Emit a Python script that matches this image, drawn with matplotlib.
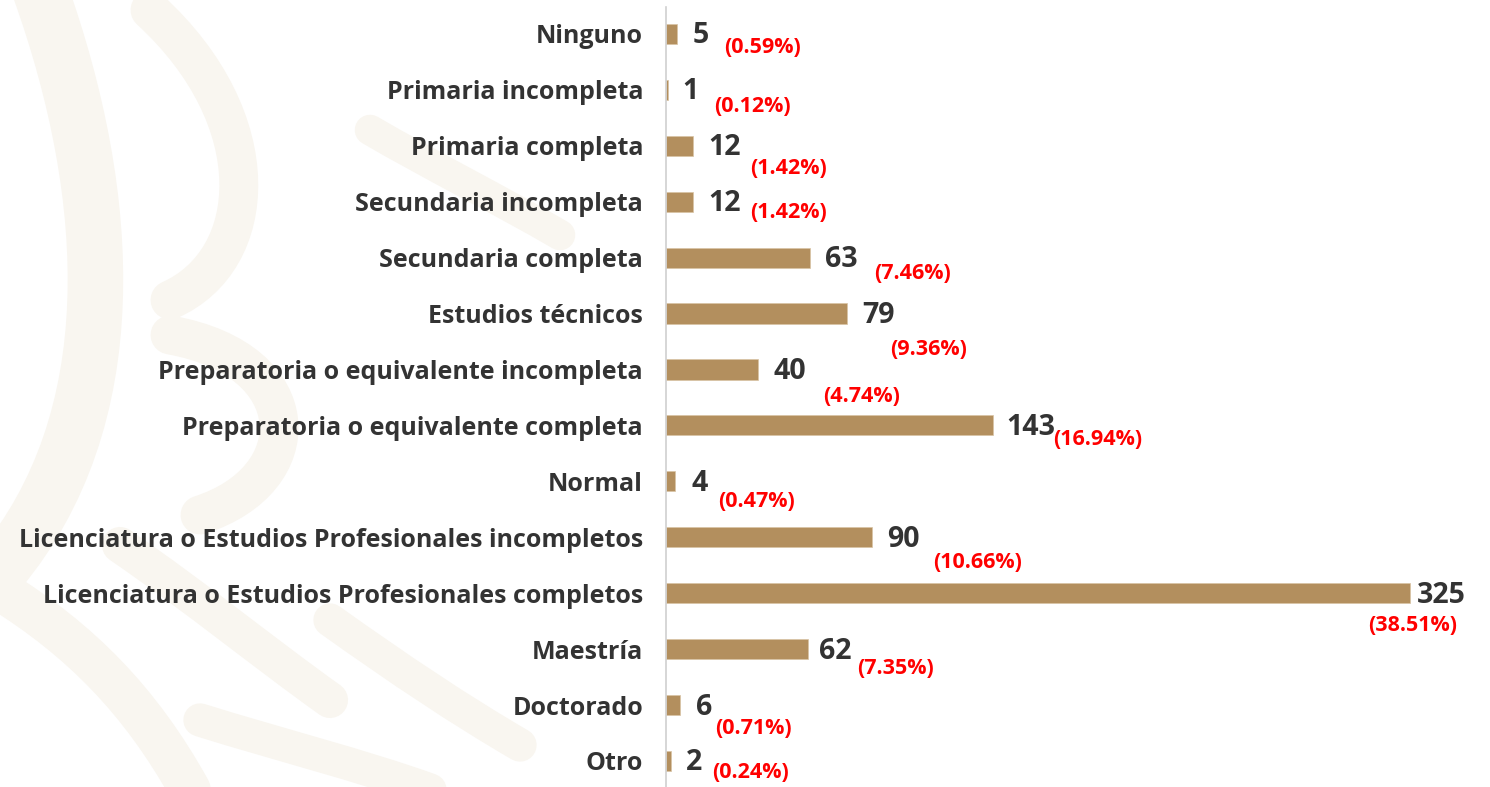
import matplotlib
matplotlib.use('Agg')
import matplotlib.pyplot as plt
from matplotlib.path import Path
from matplotlib.patches import PathPatch
import numpy as np

# Data
categories = ['Ninguno', 'Primaria incompleta', 'Primaria completa', 'Secundaria incompleta',
              'Secundaria completa', 'Estudios técnicos', 'Preparatoria o equivalente incompleta',
              'Preparatoria o equivalente completa', 'Normal',
              'Licenciatura o Estudios Profesionales incompletos',
              'Licenciatura o Estudios Profesionales completos', 'Maestría', 'Doctorado', 'Otro']
values = [5, 1, 12, 12, 63, 79, 40, 143, 4, 90, 325, 62, 6, 2]

# label placement (pixels from bar end), as laid out by hand in the original slide
value_gap = [15, 14, 15, 15, 15, 15, 16, 13, 16, 15, 7, 11, 16, 15]
pct_offsets = [(85, -14), (84, -17), (95, -23), (95, -11), (102, -16), (82, -36), (104, -27),
               (104, -14), (81, -20), (105, -25), (2, -32), (88, -19), (74, -23), (80, -12)]

FONT = 'Open Sans'
BAR = '#B38F5E'
TXT = '#333333'
WM = '#F9F6F0'

total = sum(values)
pcts = [100.0 * v / total for v in values]

W, H = 1490, 787
fig = plt.figure(figsize=(W / 100, H / 100), dpi=100)

# faint background watermark (decorative bezier strokes, pixel coords from top-left)
strokes = [
    ([(40, -10), (115, 200), (125, 420), (0, 570)], 40),
    ([(150, 10), (270, 120), (260, 260), (170, 300)], 28),
    ([(170, 335), (310, 360), (310, 480), (200, 515)], 28),
    ([(0, 590), (80, 640), (140, 700), (190, 790)], 30),
    ([(120, 545), (200, 600), (260, 650), (330, 700)], 26),
    ([(200, 720), (280, 745), (360, 765), (430, 790)], 24),
    ([(330, 620), (400, 670), (460, 710), (520, 745)], 24),
    ([(370, 130), (430, 165), (500, 200), (560, 235)], 22),
]
for pts, lw in strokes:
    verts = [(x / W, 1 - yy / H) for x, yy in pts]
    path = Path(verts, [Path.MOVETO, Path.CURVE4, Path.CURVE4, Path.CURVE4])
    fig.add_artist(PathPatch(path, transform=fig.transFigure, facecolor='none',
                             edgecolor=WM, linewidth=lw, capstyle='round',
                             joinstyle='round', zorder=0))

ax = fig.add_axes([666 / W, 0, 824 / W, 780 / H])
ax.patch.set_alpha(0)

y = np.arange(len(categories))
ax.barh(y, values, height=0.36, color=BAR, edgecolor='#D9C4A4', linewidth=0.5, zorder=2)

ax.set_xlim(0, 824 / 2.29)
ax.set_ylim(len(categories) - 0.535, -0.48)

ax.set_yticks(y)
ax.set_yticklabels(categories, fontsize=18, fontweight='bold', color=TXT, family=FONT)
ax.tick_params(axis='y', length=0, pad=16.5)
ax.set_xticks([])

for s in ['top', 'right', 'bottom']:
    ax.spines[s].set_visible(False)
ax.spines['left'].set_color('#D0D0D0')
ax.spines['left'].set_linewidth(1.2)

for i, v in enumerate(values):
    ax.annotate(str(v), xy=(v, i), xytext=(value_gap[i], -2), textcoords='offset pixels',
                ha='left', va='center', fontsize=20.5, fontweight='bold', color=TXT, family=FONT)
    dx, dy = pct_offsets[i]
    ax.annotate('({:.2f}%)'.format(pcts[i]), xy=(v, i), xytext=(dx, dy),
                textcoords='offset pixels', ha='center', va='center',
                fontsize=15.5, fontweight='bold', color='#FF0000', family=FONT)

fig.savefig('out.png', dpi=100, facecolor='white')
